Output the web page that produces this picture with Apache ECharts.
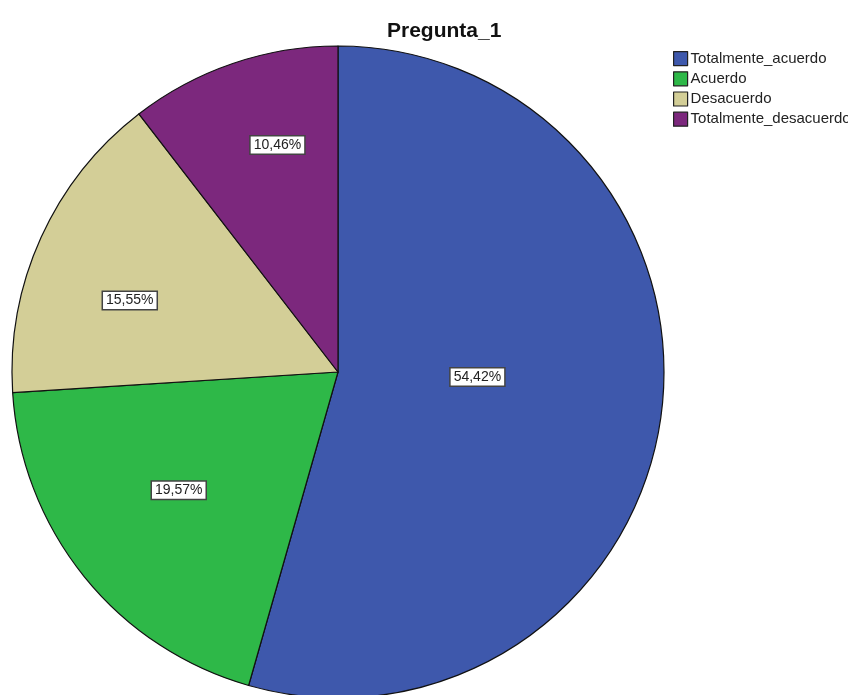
<!DOCTYPE html>
<html>
<head>
<meta charset="utf-8">
<script src="https://cdn.jsdelivr.net/npm/echarts@6/dist/echarts.min.js"></script>
<style>
  html, body { margin: 0; padding: 0; background: #fff; }
  #main { width: 848px; height: 695px; }
</style>
</head>
<body>
<div id="main"></div>
<script>
// datos del grafico
const categorias = ['Totalmente_acuerdo', 'Acuerdo', 'Desacuerdo', 'Totalmente_desacuerdo'];
const porcentajes = [54.42, 19.57, 15.55, 10.46];
const colores = ['#3E58AC', '#2EB848', '#D3CE97', '#7C287D'];

// desplazamiento de etiquetas (estilo SPSS)
const labelShift = [[-25, -18], [-30, 14], [-57, -3], [-7, -70]];

let myChart = echarts.init(document.getElementById('main'));

let option = {
  animation: false,
  title: {
    text: 'Pregunta_1',
    left: 382,
    top: 16,
    textStyle: {
      fontFamily: 'Liberation Sans',
      fontSize: 21,
      fontWeight: 'bold',
      color: '#111'
    }
  },
  legend: {
    orient: 'vertical',
    left: 668,
    top: 46,
    itemWidth: 14,
    itemHeight: 14,
    itemGap: 5,
    icon: 'rect',
    textStyle: {
      fontFamily: 'Liberation Sans',
      fontSize: 15,
      color: '#222',
      padding: [0, 0, 0, -2]
    },
    itemStyle: { borderColor: '#222', borderWidth: 1.2 },
    data: categorias
  },
  series: [
    {
      type: 'pie',
      center: [338, 372],
      radius: 326,
      startAngle: 90,
      clockwise: true,
      data: categorias.map((c, i) => ({
        name: c,
        value: porcentajes[i],
        itemStyle: { color: colores[i] }
      })),
      itemStyle: { borderColor: '#111', borderWidth: 1.2 },
      label: {
        position: 'inside',
        formatter: p => p.value.toFixed(2).replace('.', ',') + '%',
        fontFamily: 'Liberation Sans',
        fontSize: 14,
        color: '#222',
        backgroundColor: '#fff',
        borderColor: '#444',
        borderWidth: 1.5,
        padding: [2, 3, 1, 3]
      },
      labelLayout: p => ({ dx: labelShift[p.dataIndex][0], dy: labelShift[p.dataIndex][1] }),
      emphasis: { disabled: true }
    }
  ]
};

myChart.setOption(option);
</script>
</body>
</html>
